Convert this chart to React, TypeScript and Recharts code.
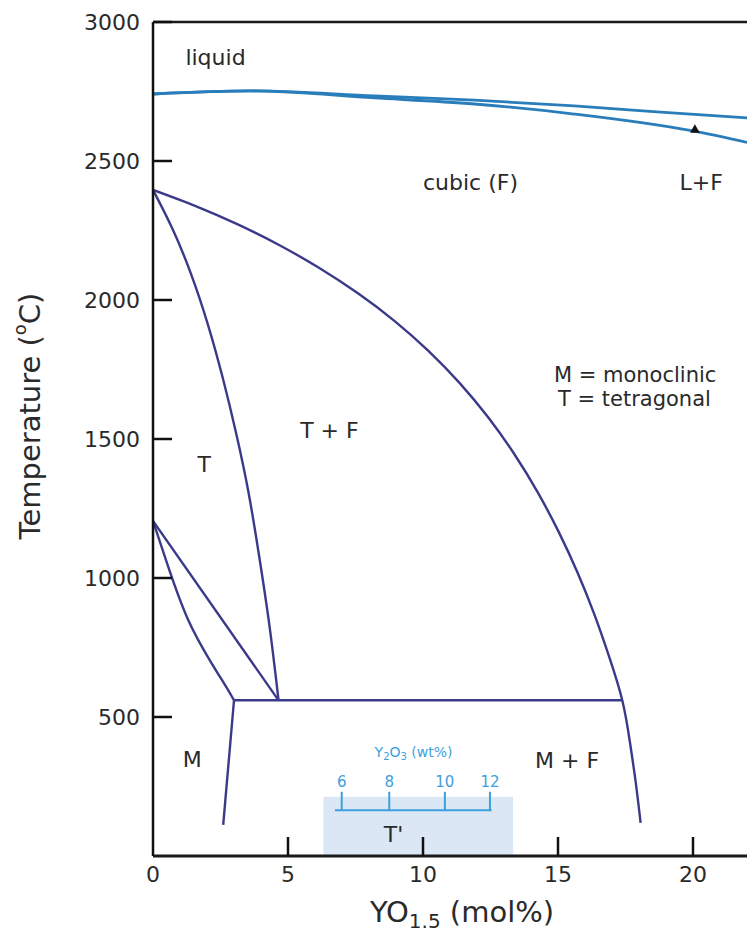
import React from "react";
import {
  ComposedChart,
  XAxis,
  YAxis,
  Line,
  Scatter,
  ReferenceArea,
  ReferenceLine,
  Label,
  Symbols,
} from "recharts";

// ZrO2 - YO1.5 phase diagram (x in mol% YO1.5, t in degC)
const xTicks = [0, 5, 10, 15, 20];
const yTicks = [500, 1000, 1500, 2000, 2500, 3000];

const liquidus = [
  { x: 0, t: 2741 }, { x: 3.6, t: 2752 }, { x: 8.2, t: 2734 }, { x: 11.9, t: 2719 },
  { x: 15.6, t: 2698 }, { x: 18.8, t: 2676 }, { x: 22, t: 2655 },
];
const solidus = [
  { x: 0, t: 2741 }, { x: 3.6, t: 2752 }, { x: 8.2, t: 2727 }, { x: 11.9, t: 2705 },
  { x: 15.6, t: 2669 }, { x: 20.0, t: 2608 }, { x: 22, t: 2567 },
];
const cubicBoundary = [
  { x: 0, t: 2396 }, { x: 1.58, t: 2338 }, { x: 3.14, t: 2272 }, { x: 4.67, t: 2198 },
  { x: 6.16, t: 2115 }, { x: 7.59, t: 2024 }, { x: 8.94, t: 1925 }, { x: 10.2, t: 1817 },
  { x: 11.36, t: 1701 }, { x: 12.42, t: 1577 }, { x: 13.38, t: 1446 }, { x: 14.25, t: 1308 },
  { x: 15.03, t: 1165 }, { x: 15.73, t: 1018 }, { x: 16.35, t: 868 }, { x: 16.9, t: 715 },
  { x: 17.38, t: 560 }, { x: 17.66, t: 412 }, { x: 17.88, t: 264 }, { x: 18.06, t: 119 },
];
const tetraBoundary = [
  { x: 0, t: 2396 }, { x: 0.72, t: 2256 }, { x: 1.4, t: 2096 }, { x: 2.02, t: 1916 },
  { x: 2.58, t: 1721 }, { x: 3.09, t: 1516 }, { x: 3.55, t: 1301 }, { x: 3.96, t: 1061 },
  { x: 4.33, t: 816 }, { x: 4.65, t: 560 },
];
const monoLower = [
  { x: 0, t: 1205 }, { x: 0.6, t: 1030 }, { x: 1.3, t: 850 }, { x: 2.1, t: 705 },
  { x: 2.7, t: 610 }, { x: 3.0, t: 560 },
];
const monoUpper = [{ x: 0, t: 1205 }, { x: 4.65, t: 560 }];
const eutectoid = [{ x: 3.0, t: 560 }, { x: 17.38, t: 560 }];
const monoBoundary = [{ x: 3.0, t: 560 }, { x: 2.6, t: 112 }];
const triangle = [{ x: 20.07, t: 2612 }];

const regionLabels = [
  { x: 1.2, t: 2845, text: "liquid", size: 22 },
  { x: 10.0, t: 2395, text: "cubic (F)", size: 22 },
  { x: 19.5, t: 2395, text: "L+F", size: 22 },
  { x: 14.85, t: 1705, text: "M = monoclinic", size: 21 },
  { x: 15.0, t: 1620, text: "T = tetragonal", size: 21 },
  { x: 5.45, t: 1505, text: "T + F", size: 22 },
  { x: 1.65, t: 1380, text: "T", size: 22 },
  { x: 1.1, t: 320, text: "M", size: 22 },
  { x: 14.15, t: 317, text: "M + F", size: 22 },
  { x: 8.55, t: 50, text: "T'", size: 22 },
];

// inset Y2O3 wt% scale
const wtTicks = [
  { x: 6.99, t: 248, text: "6" },
  { x: 8.75, t: 248, text: "8" },
  { x: 10.81, t: 248, text: "10" },
  { x: 12.48, t: 248, text: "12" },
];
const wtTitle = [{ x: 9.65, t: 356 }];

const FONT = "DejaVu Sans";
const PURPLE = "#3b3a8a";
const BLUE = "#2a7dbb";
const LIGHT = "#3d9fdc";
const INK = "#2a2a2a";

const YTick = ({ x, y, payload }: any) => (
  <g>
    <line x1={x} y1={y} x2={x + 19} y2={y} stroke="#111" strokeWidth={2.5} />
    <text x={x - 13} y={y} textAnchor="end" dominantBaseline="central" fontSize={22} fontFamily={FONT} fill={INK}>
      {payload.value}
    </text>
  </g>
);

const XTick = ({ x, y, payload }: any) => (
  <g>
    {payload.value !== 0 && <line x1={x} y1={y} x2={x} y2={y - 19} stroke="#111" strokeWidth={2.5} />}
    <text x={x} y={y + 18} textAnchor="middle" dominantBaseline="central" fontSize={22} fontFamily={FONT} fill={INK}>
      {payload.value}
    </text>
  </g>
);

const TextMark = ({ cx, cy, payload }: any) => (
  <text x={cx} y={cy} fontSize={payload.size} fontFamily={FONT} fill={INK}>
    {payload.text}
  </text>
);

const WtLabel = ({ cx, cy, payload }: any) => (
  <text x={cx} y={cy} textAnchor="middle" fontSize={15} fontFamily={FONT} fill={LIGHT}>
    {payload.text}
  </text>
);

const WtTitle = ({ cx, cy }: any) => (
  <text x={cx} y={cy} textAnchor="middle" fontSize={14} fontFamily={FONT} fill={LIGHT}>
    Y<tspan fontSize={10} dy={3}>2</tspan>
    <tspan dy={-3}>O</tspan>
    <tspan fontSize={10} dy={3}>3</tspan>
    <tspan dy={-3}> (wt%)</tspan>
  </text>
);

const Tri = ({ cx, cy }: any) => <Symbols cx={cx} cy={cy} type="triangle" size={40} fill="#111" />;

const YTitle = ({ viewBox }: any) => {
  const cx = viewBox.x + 30;
  const cy = viewBox.y + viewBox.height / 2 - 23;
  return (
    <text
      x={cx}
      y={cy}
      transform={`rotate(-90, ${cx}, ${cy})`}
      textAnchor="middle"
      dominantBaseline="central"
      fontSize={29}
      fontFamily={FONT}
      fill={INK}
    >
      Temperature (<tspan fontSize={18} dy={-11}>o</tspan>
      <tspan dy={11}>C)</tspan>
    </text>
  );
};

const XTitle = ({ viewBox }: any) => {
  const cx = viewBox.x + viewBox.width / 2 + 12;
  const cy = viewBox.y + 66;
  return (
    <text x={cx} y={cy} textAnchor="middle" fontSize={29} fontFamily={FONT} fill={INK}>
      YO<tspan fontSize={20} dy={6}>1.5</tspan>
      <tspan dy={-6}> (mol%)</tspan>
    </text>
  );
};

const purple = (data: any[], key: string, curve: "monotone" | "natural" | "linear") => (
  <Line
    key={key}
    data={data}
    dataKey="t"
    type={curve}
    stroke={PURPLE}
    strokeWidth={2.4}
    dot={false}
    activeDot={false}
    isAnimationActive={false}
  />
);

export default function App() {
  return (
    <div style={{ position: "absolute", left: 0, top: 0, background: "#fff" }}>
      <ComposedChart width={748} height={933} margin={{ top: 22, right: 1, bottom: 17, left: 0 }}>
        <XAxis
          dataKey="x"
          type="number"
          domain={[0, 22]}
          ticks={xTicks}
          interval={0}
          allowDataOverflow
          height={60}
          tickSize={0}
          tickMargin={0}
          tick={<XTick />}
          axisLine={{ stroke: "#1a1a1a", strokeWidth: 3 }}
        >
          <Label content={<XTitle />} />
        </XAxis>
        <YAxis
          type="number"
          domain={[0, 3000]}
          ticks={yTicks}
          interval={0}
          allowDataOverflow
          width={153}
          tickSize={0}
          tickMargin={0}
          tick={<YTick />}
          axisLine={{ stroke: "#111", strokeWidth: 2.5 }}
        >
          <Label content={<YTitle />} />
        </YAxis>

        <ReferenceArea x1={6.31} x2={13.34} y1={0} y2={213} fill="#dbe7f5" fillOpacity={1} stroke="none" />
        <ReferenceLine y={3000} stroke="#1a1a1a" strokeWidth={2.5} />

        <ReferenceLine segment={[{ x: 6.74, y: 165 }, { x: 12.54, y: 165 }]} stroke={LIGHT} strokeWidth={2} />
        {wtTicks.map((d) => (
          <ReferenceLine
            key={d.text}
            segment={[{ x: d.x, y: 165 }, { x: d.x, y: 231 }]}
            stroke={LIGHT}
            strokeWidth={2}
          />
        ))}

        <Line data={liquidus} dataKey="t" type="monotone" stroke={BLUE} strokeWidth={2.8} dot={false} activeDot={false} isAnimationActive={false} />
        <Line data={solidus} dataKey="t" type="monotone" stroke={BLUE} strokeWidth={2.8} dot={false} activeDot={false} isAnimationActive={false} />

        {purple(cubicBoundary, "cubic", "natural")}
        {purple(tetraBoundary, "tetra", "natural")}
        {purple(monoLower, "monoLower", "natural")}
        {purple(monoUpper, "monoUpper", "linear")}
        {purple(eutectoid, "eutectoid", "linear")}
        {purple(monoBoundary, "monoBoundary", "linear")}

        <Scatter data={triangle} dataKey="t" shape={<Tri />} isAnimationActive={false} />
        <Scatter data={regionLabels} dataKey="t" shape={<TextMark />} isAnimationActive={false} />
        <Scatter data={wtTicks} dataKey="t" shape={<WtLabel />} isAnimationActive={false} />
        <Scatter data={wtTitle} dataKey="t" shape={<WtTitle />} isAnimationActive={false} />
      </ComposedChart>
    </div>
  );
}
